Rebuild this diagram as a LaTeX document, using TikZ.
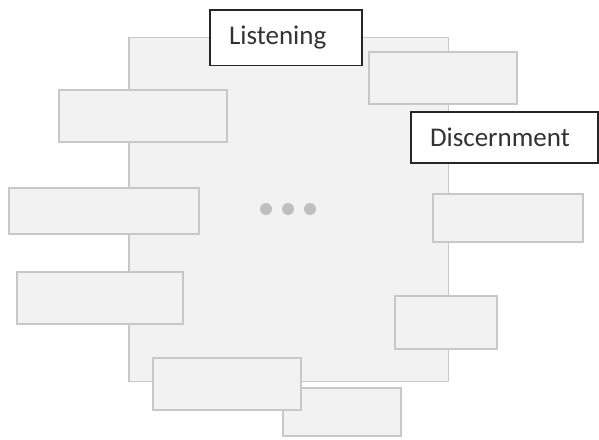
\documentclass[tikz,border=0pt]{standalone}
\usepackage{fontspec}
\setmainfont{Carlito}
\usepackage{xcolor}
\definecolor{cardFill}{HTML}{F2F2F2}
\definecolor{cardLine}{HTML}{C8C8C8}
\definecolor{tagLine}{HTML}{262626}
\definecolor{dotGray}{HTML}{BFBFBF}
\usepackage{tikz}
\usetikzlibrary{positioning}

\begin{document}
\begin{tikzpicture}[x=1pt, y=-1pt, font=\fontsize{27}{32}\selectfont,
  card/.style={draw=cardLine, fill=cardFill, line width=1.3pt, inner sep=0pt},
  tagbox/.style={draw=tagLine, fill=white, line width=1.3pt, inner ysep=0pt, inner xsep=19pt, align=left, text=black!80},
  dot/.style={circle, fill=dotGray, minimum size=12pt, inner sep=0pt}]
\useasboundingbox (0,0) rectangle (599,439);
% backdrop
\node[card, minimum width=319.5pt, minimum height=344pt] (hub) at (288.75,209.5) {};
% side cards
\node[card, minimum width=168pt, minimum height=52pt] (left1) at (143,116) {};
\node[card, minimum width=190pt, minimum height=46pt] (left2) at (104,211) {};
\node[card, minimum width=166pt, minimum height=52pt] (left3) at (100,298) {};
\node[card, minimum width=118pt, minimum height=48pt] (bot2) at (342,412) {};
\node[card, minimum width=148pt, minimum height=52pt] (bot1) at (227,384) {};
\node[card, minimum width=148pt, minimum height=52pt] (right1) at (443,78) {};
\node[card, minimum width=150pt, minimum height=48pt] (right2) at (508,218) {};
\node[card, minimum width=102pt, minimum height=53pt] (right3) at (446,322.5) {};
% labelled cards
\node[tagbox, minimum height=55.5pt, text width=114pt] (listen) at (286,37.75) {Listening};
\node[tagbox, minimum height=51pt, text width=149pt] (discern) at (504.5,137.5) {Discernment};
% ellipsis
\foreach \i/\x in {1/266,2/288,3/310}
  \node[dot] (dot\i) at (\x,209) {};
\end{tikzpicture}
\end{document}
